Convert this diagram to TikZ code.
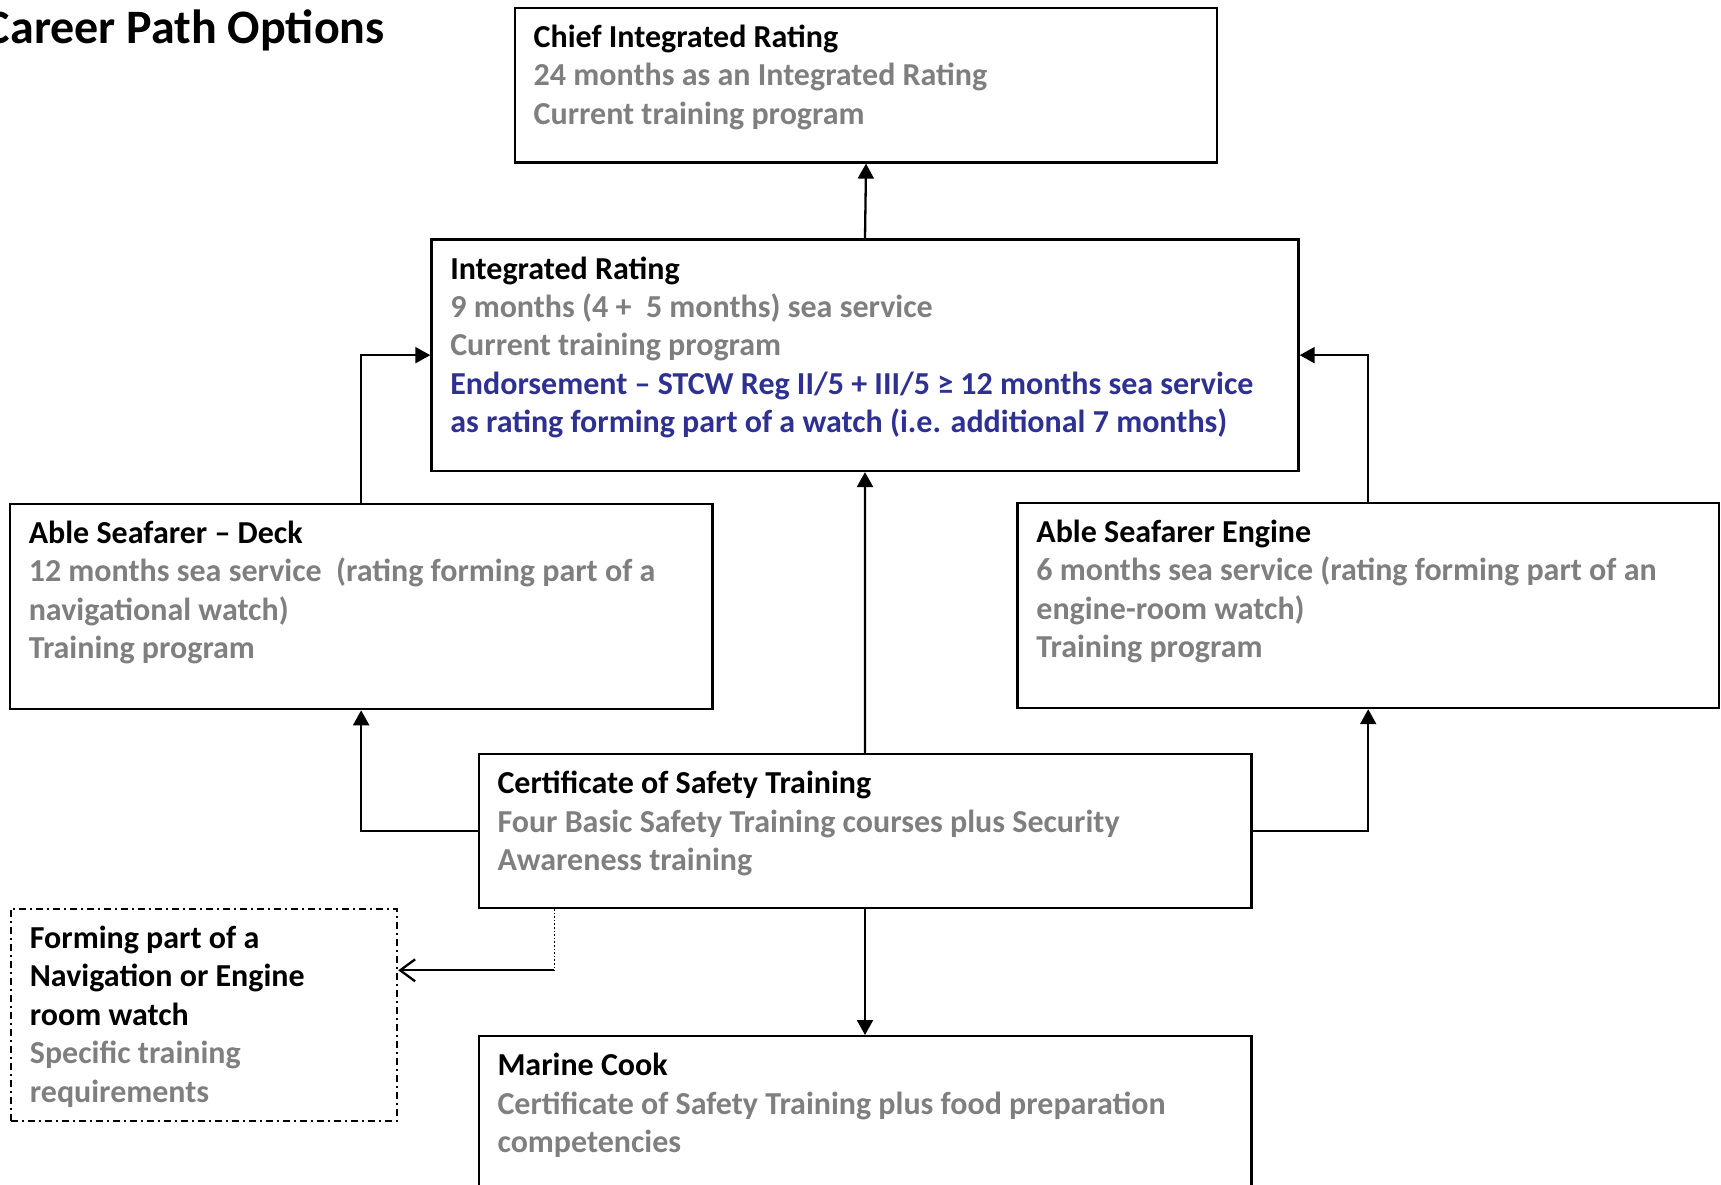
\documentclass[tikz,border=0pt]{standalone}
\usepackage{fontspec}
\setmainfont{Carlito}
\usetikzlibrary{arrows.meta}
\definecolor{txtgray}{RGB}{127,127,127}
\definecolor{txtblue}{RGB}{46,49,146}
\newcommand{\gr}[1]{\textcolor{txtgray}{#1}}
\newcommand{\bl}[1]{\textcolor{txtblue}{#1}}
\newcommand{\fl}{\rule{0pt}{26pt}}
\begin{document}
\begin{tikzpicture}[x=1pt,y=-1pt,
  box/.style={draw, line width=2.3pt, rectangle, inner sep=0pt, anchor=north west},
  dashbox/.style={draw, line width=2pt, rectangle, inner sep=0pt, anchor=north west,
    dash pattern=on 7pt off 4pt on 2pt off 4pt},
  txt/.style={anchor=north west, align=left, inner sep=0pt,
    font=\fontsize{32}{38.4}\selectfont\bfseries},
  arr/.style={line width=2.3pt, -{Triangle[width=16pt,length=15pt]}},
  openarr/.style={line width=2.3pt, -{Straight Barb[width=22pt,length=15pt,line width=2.3pt]}},
  dotline/.style={line width=1.6pt, dotted}]
\useasboundingbox (0,0) rectangle (1721,1185);
\clip (0,0) rectangle (1721,1185);

\node[anchor=base east, inner sep=0pt, font=\fontsize{48}{58}\selectfont\bfseries] (title) at (385,44) {Career Path Options};

\node[box, minimum width=702.4pt, minimum height=154.7pt] (chief) at (513.7,6.6) {};
\node[box, minimum width=867.1pt, minimum height=231.6pt] (int) at (430.3,238.2) {};
\node[box, minimum width=702.4pt, minimum height=205.3pt] (deck) at (8.8,502.7) {};
\node[box, minimum width=701.3pt, minimum height=205.3pt] (eng) at (1016.4,501.6) {};
\node[box, minimum width=772.7pt, minimum height=153.6pt] (cert) at (477.5,753.0) {};
\node[box, minimum width=772.7pt, minimum height=200pt] (cook) at (477.5,1035.0) {};
\node[dashbox, minimum width=386.3pt, minimum height=211.9pt] (dash) at (9.9,907.7) {};

\node[txt] (chieft) at (533.5,21.2) {\fl Chief Integrated Rating\\\gr{24 months as an Integrated Rating}\\\gr{Current training program}};
\node[txt] (intt) at (450.1,252.8) {\fl Integrated Rating\\\gr{9 months (4 +\ \ 5 months) sea service}\\\gr{Current training program}\\\bl{Endorsement – STCW Reg II/5 + III/5 ≥ 12 months sea service}\\\bl{as rating forming part of a watch (i.e. additional 7 months)}};
\node[txt] (deckt) at (28.6,517.3) {\fl Able Seafarer – Deck\\\gr{12 months sea service\ \ (rating forming part of a}\\\gr{navigational watch)}\\\gr{Training program}};
\node[txt] (engt) at (1036.2,516.2) {\fl Able Seafarer Engine\\\gr{6 months sea service (rating forming part of an}\\\gr{engine-room watch)}\\\gr{Training program}};
\node[txt] (certt) at (497.3,767.6) {\fl Certificate of Safety Training\\\gr{Four Basic Safety Training courses plus Security}\\\gr{Awareness training}};
\node[txt] (cookt) at (497.3,1049.6) {\fl Marine Cook\\\gr{Certificate of Safety Training plus food preparation}\\\gr{competencies}};
\node[txt] (dasht) at (29.7,922.3) {\fl Forming part of a\\Navigation or Engine\\room watch\\\gr{Specific training}\\\gr{requirements}};

\draw[arr] (int.north) -- (chief.south);
\draw[arr] (cert.north) -- (int.south);
\draw[arr] (cert.south) -- (cook.north);
\draw[arr] (cert.west) -| (deck.south);
\draw[arr] (cert.east) -| (eng.south);
\draw[arr] (deck.north) |- (int.west);
\draw[arr] (eng.north) |- (int.east);
\coordinate (dc) at (554.3,970.3);
\draw[dotline] (cert.south -| dc) -- (dc);
\draw[openarr] (dc) -- (dash.east |- dc);
\end{tikzpicture}
\end{document}
